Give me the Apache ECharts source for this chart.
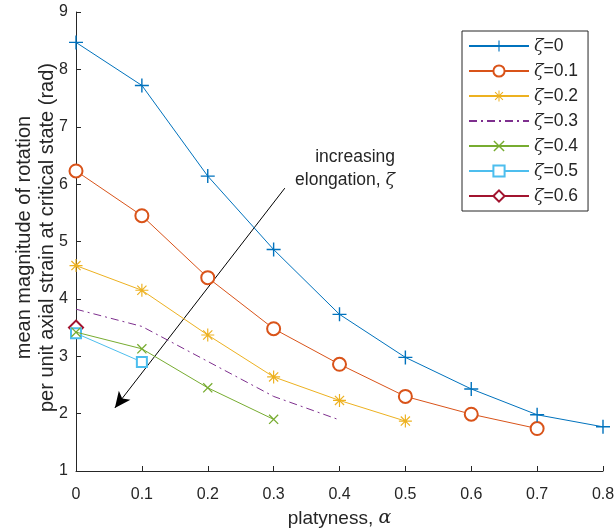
<!DOCTYPE html>
<html>
<head>
<meta charset="utf-8">
<script src="https://cdn.jsdelivr.net/npm/echarts@6/dist/echarts.min.js"></script>
<style>
  html, body { margin: 0; padding: 0; background: #fff; }
</style>
</head>
<body>
<div id="chart" style="width: 616px;height:529px"></div>
<script>
// platyness values on the x axis
const alpha = [0, 0.1, 0.2, 0.3, 0.4, 0.5, 0.6, 0.7, 0.8]
// mean rotation per unit axial strain, one array per elongation
const zeta0 = [8.47, 7.72, 6.14, 4.86, 3.73, 2.98, 2.43, 1.98, 1.77]
const zeta1 = [6.23, 5.45, 4.37, 3.48, 2.86, 2.30, 1.99, 1.74]
const zeta2 = [4.58, 4.15, 3.37, 2.64, 2.23, 1.87]
const zeta3 = [3.82, 3.52, 2.91, 2.30, 1.89]
const zeta4 = [3.42, 3.13, 2.45, 1.90]
const zeta5 = [3.40, 2.90]
const zeta6 = [3.50]
const names = ['ζ=0', 'ζ=0.1', 'ζ=0.2', 'ζ=0.3', 'ζ=0.4', 'ζ=0.5', 'ζ=0.6']
// annotation arrow, in data units
const arrowFrom = [0.317, 5.93]
const arrowTo = [0.059, 2.10]

const colors = ['#0072BD', '#D95319', '#EDB120', '#7E2F8E', '#77AC30', '#4DBEEE', '#A2142F']
const plusPath = 'path://M-1,-10H1V-1H10V1H1V10H-1V1H-10V-1H-1Z'
const starPath = 'path://M-0.9,-10H0.9V10H-0.9Z M-10,-0.9H10V0.9H-10Z ' +
  'M-7.7,-6.4L-6.4,-7.7L7.7,6.4L6.4,7.7Z M6.4,-7.7L7.7,-6.4L-6.4,7.7L-7.7,6.4Z'
const crossPath = 'path://M-7.7,-6.3L-6.3,-7.7L7.7,6.3L6.3,7.7Z M6.3,-7.7L7.7,-6.3L-6.3,7.7L-7.7,6.3Z'
const blankPath = 'path://M-1,-1H1V1H-1Z'

const symbols = [plusPath, 'emptyCircle', starPath, blankPath, crossPath, 'emptyRect', 'emptyDiamond']
const sizes = [14, 13, 13, 1, 10, 10, 14]
const values = [zeta0, zeta1, zeta2, zeta3, zeta4, zeta5, zeta6]

const font = 'Liberation Sans, Arial, Helvetica, sans-serif'
const greek = 'DejaVu Serif, serif'
const ink = '#262626'

let series = values.map(function (v, i) {
  return {
    name: names[i],
    type: 'line',
    data: v.map(function (y, k) { return [alpha[k], y] }),
    symbol: symbols[i],
    symbolSize: sizes[i],
    showSymbol: i !== 3,
    color: colors[i],
    lineStyle: { width: 1, color: colors[i], type: i === 3 ? [8, 4, 2, 4] : 'solid' },
    itemStyle: {
      color: i === 3 ? 'rgba(0,0,0,0)' : colors[i],
      borderWidth: symbols[i].indexOf('empty') === 0 ? 1.1 : 0
    },
    emphasis: { disabled: true },
    animation: false,
    z: 10 - i
  }
})

series.push({
  name: 'arrow',
  type: 'line',
  data: [],
  animation: false,
  markLine: {
    silent: true,
    animation: false,
    symbol: ['none', 'arrow'],
    symbolSize: [11, 16],
    lineStyle: { color: '#000', width: 1, type: 'solid' },
    label: { show: false },
    data: [[{ coord: arrowFrom }, { coord: arrowTo }]]
  }
})

let mychart = echarts.init(document.getElementById('chart'))
mychart.setOption({
  backgroundColor: '#fff',
  textStyle: { fontFamily: font },
  grid: { left: 76, right: 13, top: 12, bottom: 58, outerBoundsMode: 'none', containLabel: false },
  xAxis: {
    type: 'value',
    min: 0,
    max: 0.8,
    interval: 0.1,
    name: 'platyness, {i|α}',
    nameLocation: 'middle',
    nameGap: 38,
    nameMoveOverlap: false,
    nameTextStyle: {
      fontSize: 19,
      color: ink,
      rich: { i: { fontSize: 19, fontStyle: 'italic', fontFamily: greek, color: ink } }
    },
    axisLine: { lineStyle: { color: ink, width: 1 } },
    axisTick: { inside: true, length: 5, lineStyle: { color: ink } },
    axisLabel: { fontSize: 16, color: ink, margin: 16 },
    splitLine: { show: false }
  },
  yAxis: {
    type: 'value',
    min: 1,
    max: 9,
    interval: 1,
    name: 'mean magnitude of rotation\nper unit axial strain at critical state (rad)',
    nameLocation: 'middle',
    nameGap: 17,
    nameMoveOverlap: false,
    nameTextStyle: { fontSize: 20, color: ink, lineHeight: 23, padding: [0, 0, 0, 8] },
    axisLine: { show: true, lineStyle: { color: ink, width: 1 } },
    axisTick: { show: true, inside: true, length: 5, lineStyle: { color: ink } },
    axisLabel: { fontSize: 16, color: ink, margin: 8 },
    splitLine: { show: false }
  },
  legend: {
    data: names,
    orient: 'vertical',
    left: 462,
    top: 31,
    padding: [6, 10, 6, 6],
    itemWidth: 60,
    itemHeight: 14,
    itemGap: 7,
    borderColor: ink,
    borderWidth: 1,
    backgroundColor: '#fff',
    selectedMode: false,
    formatter: function (name) { return '{z|ζ}' + name.slice(1) },
    textStyle: {
      fontSize: 17.5,
      color: ink,
      rich: { z: { fontSize: 17.5, fontStyle: 'italic', fontFamily: greek, color: ink } }
    }
  },
  graphic: [{
    type: 'text',
    right: 616 - 395,
    top: 148,
    style: { text: 'increasing', font: '17.5px ' + font, fill: ink }
  }, {
    type: 'text',
    right: 616 - 395,
    top: 171,
    style: {
      text: 'elongation, {z|ζ}',
      font: '17.5px ' + font,
      fill: ink,
      rich: { z: { fontSize: 17.5, fontStyle: 'italic', fontFamily: greek, fill: ink } }
    }
  }],
  series: series
}, true)
</script>
</body>
</html>
